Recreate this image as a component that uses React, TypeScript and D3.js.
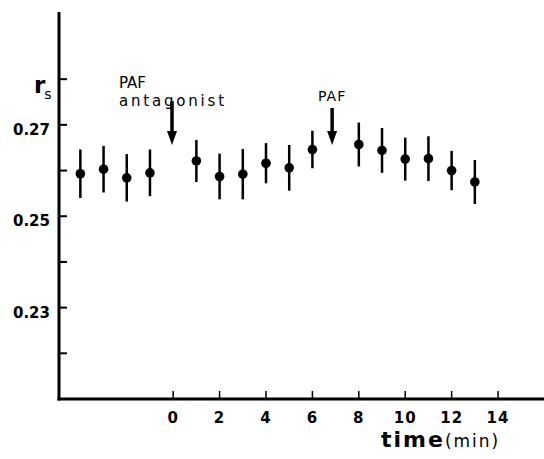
import React, { useEffect, useRef } from "react";
import * as d3 from "d3";

// time (min) of each measurement
const times = [-4, -3, -2, -1, 1, 2, 3, 4, 5, 6, 8, 9, 10, 11, 12, 13];
// mean steady-state anisotropy r_s
const rsValues = [0.2593, 0.2603, 0.2584, 0.2595, 0.2621, 0.2587, 0.2592, 0.2616, 0.2606, 0.2646, 0.2657, 0.2644, 0.2625, 0.2626, 0.26, 0.2575];
// +/- error
const rsErrors = [0.0053, 0.0051, 0.0052, 0.0051, 0.0046, 0.005, 0.0055, 0.0044, 0.005, 0.0041, 0.0048, 0.0049, 0.0047, 0.0049, 0.0043, 0.0048];

const xTicks = [0, 2, 4, 6, 8, 10, 12, 14];
const yTicks = [0.22, 0.23, 0.24, 0.25, 0.26, 0.27, 0.28];
const yLabels = [0.23, 0.25, 0.27];

// arrows: time, label lines
const eventTimes = [-0.05, 6.85];
const eventLabels = [["PAF", "antagonist"], ["PAF"]];

const App = () => {
  const ref = useRef<SVGSVGElement>(null);

  useEffect(() => {
    const width = 544;
    const height = 459;

    const svg = d3.select(ref.current)
      .attr("width", width)
      .attr("height", height);

    svg.selectAll("*").remove();

    const x = d3.scaleLinear().domain([-4.92, 15.98]).range([59, 544]);
    const y = d3.scaleLinear().domain([0.21, 0.2947]).range([399, 12]);

    const font = "'DejaVu Sans', sans-serif";

    // axes lines
    svg.append("line")
      .attr("x1", x(-4.92)).attr("x2", x(-4.92))
      .attr("y1", y(0.2947)).attr("y2", y(0.21) + 1.5)
      .attr("stroke", "#000").attr("stroke-width", 3);
    svg.append("line")
      .attr("x1", x(-4.92) - 1.5).attr("x2", x(15.98))
      .attr("y1", y(0.21)).attr("y2", y(0.21))
      .attr("stroke", "#000").attr("stroke-width", 3);

    // y ticks
    svg.selectAll(".ytick")
      .data(yTicks)
      .enter()
      .append("line")
      .attr("x1", x(-4.92)).attr("x2", x(-4.92) + 8)
      .attr("y1", d => y(d)).attr("y2", d => y(d))
      .attr("stroke", "#000").attr("stroke-width", 2);

    svg.selectAll(".ylabel")
      .data(yLabels)
      .enter()
      .append("text")
      .attr("x", x(-4.92) - 9)
      .attr("y", d => y(d) + 10)
      .attr("text-anchor", "end")
      .attr("font-family", font)
      .attr("font-weight", "bold")
      .attr("font-size", 15)
      .text(d => d.toFixed(2));

    // x ticks
    svg.selectAll(".xtick")
      .data(xTicks)
      .enter()
      .append("line")
      .attr("x1", d => x(d)).attr("x2", d => x(d))
      .attr("y1", y(0.21)).attr("y2", y(0.21) - 8)
      .attr("stroke", "#000").attr("stroke-width", 1.5);

    svg.selectAll(".xlabel")
      .data(xTicks)
      .enter()
      .append("text")
      .attr("x", d => x(d))
      .attr("y", y(0.21) + 24)
      .attr("text-anchor", "middle")
      .attr("font-family", font)
      .attr("font-weight", "bold")
      .attr("font-size", 15)
      .attr("letter-spacing", 1)
      .text(d => d);

    // axis titles
    const rs = svg.append("text")
      .attr("x", 34).attr("y", 93)
      .attr("font-family", font);
    rs.append("tspan").attr("font-weight", "bold").attr("font-size", 23).text("r");
    rs.append("tspan").attr("font-size", 14).attr("dy", 6).attr("dx", -1).text("s");

    const tl = svg.append("text")
      .attr("x", 381).attr("y", 447)
      .attr("font-family", font);
    tl.append("tspan").attr("font-weight", "bold").attr("font-size", 22).attr("letter-spacing", 2).text("time");
    tl.append("tspan").attr("font-size", 17).attr("letter-spacing", 2).text("(min)");

    // error bars
    svg.selectAll(".err")
      .data(times)
      .enter()
      .append("line")
      .attr("x1", d => x(d)).attr("x2", d => x(d))
      .attr("y1", (_, i) => y(rsValues[i] + rsErrors[i]))
      .attr("y2", (_, i) => y(rsValues[i] - rsErrors[i]))
      .attr("stroke", "#000").attr("stroke-width", 2.5);

    svg.selectAll(".dot")
      .data(times)
      .enter()
      .append("circle")
      .attr("cx", d => x(d))
      .attr("cy", (_, i) => y(rsValues[i]))
      .attr("r", 4.8)
      .attr("fill", "#000");

    // arrows
    eventTimes.forEach((t, i) => {
      const ax = x(t);
      const top = i === 0 ? y(0.2752) : y(0.2737);
      const tip = y(0.2656);
      svg.append("line")
        .attr("x1", ax).attr("x2", ax)
        .attr("y1", top).attr("y2", tip - 10)
        .attr("stroke", "#000").attr("stroke-width", 3.5);
      svg.append("path")
        .attr("d", `M${ax - 5},${tip - 14}L${ax + 5},${tip - 14}L${ax},${tip}Z`)
        .attr("fill", "#000");

      const lines = eventLabels[i];
      if (lines.length === 2) {
        svg.append("text")
          .attr("x", ax - 53).attr("y", 88)
          .attr("font-family", font).attr("font-size", 15)
          .text(lines[0]);
        svg.append("text")
          .attr("x", ax - 53).attr("y", 106)
          .attr("font-family", font).attr("font-size", 15)
          .attr("letter-spacing", 2.8)
          .text(lines[1]);
      } else {
        svg.append("text")
          .attr("x", ax).attr("y", 101)
          .attr("text-anchor", "middle")
          .attr("font-family", font).attr("font-size", 14)
          .attr("letter-spacing", 1)
          .text(lines[0]);
      }
    });
  }, []);

  return <svg ref={ref} style={{ position: "absolute", left: 0, top: 0, background: "#fff" }}></svg>;
};

export default App;
